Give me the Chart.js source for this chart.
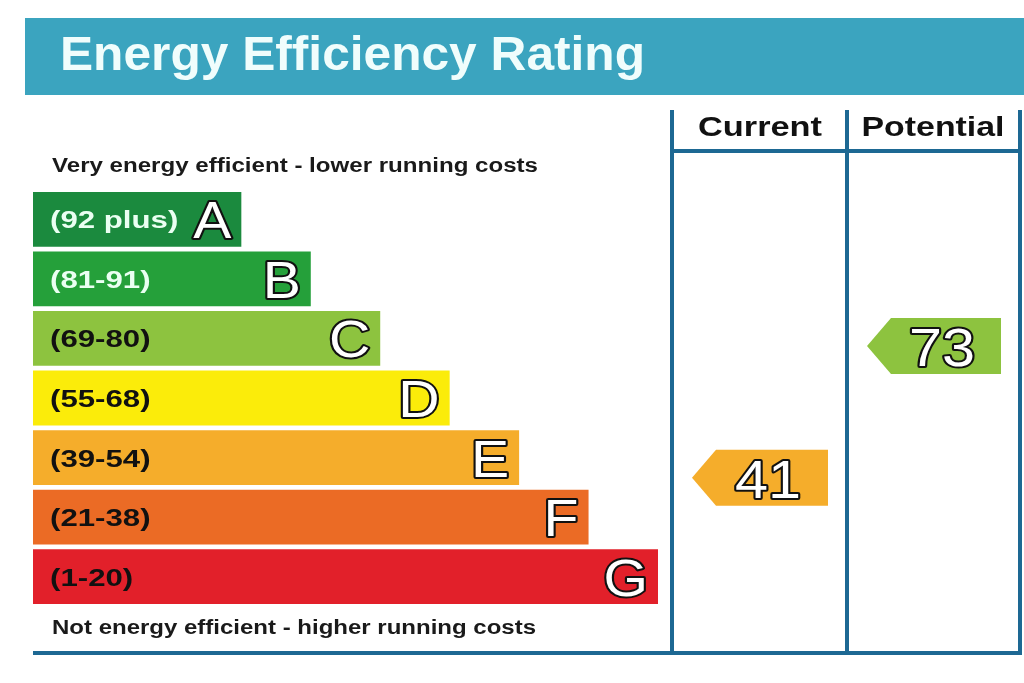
<!DOCTYPE html>
<html>
<head>
<meta charset="utf-8">
<script src="https://cdn.jsdelivr.net/npm/chart.js@4.4.1/dist/chart.umd.min.js"></script>
<style>
html,body{margin:0;padding:0;background:#fff;}
canvas{display:block;}
</style>
</head>
<body>
<canvas id="c" width="1024" height="683"></canvas>
<script>
// ---- data ----
const chartTitle = 'Energy Efficiency Rating';
const bands = ['A','B','C','D','E','F','G'];
const rangeLabels = ['(92 plus)','(81-91)','(69-80)','(55-68)','(39-54)','(21-38)','(1-20)'];
const bandMin = [92,81,69,55,39,21,1];
const bandMax = [100,91,80,68,54,38,20];
const barLengths = [3,4,5,6,7,8,9];
const bandColors = ['#1b8a3e','#25a03a','#8dc33f','#fbec0a','#f5ad2b','#eb6b25','#e2202a'];
const labelColors = ['#eafff2','#eafff2','#111','#111','#111','#111','#111'];
const columnTitles = ['Current','Potential'];
const ratings = [41, 73];
const topNote = 'Very energy efficient - lower running costs';
const bottomNote = 'Not energy efficient - higher running costs';

const FONT = '"Liberation Sans", Arial, sans-serif';
const LINE = '#1d6893';

function txt(ctx, s, x, y, size, weight, color, align, targetW, sx, stroke){
  ctx.save();
  ctx.font = weight + ' ' + size + 'px ' + FONT;
  ctx.textBaseline = 'alphabetic';
  ctx.textAlign = 'left';
  const w0 = ctx.measureText(s).width;
  const k = targetW ? targetW / w0 : (sx || 1);
  const w = w0 * k;
  let left = x;
  if (align === 'center') left = x - w/2;
  else if (align === 'right') left = x - w;
  ctx.translate(left, y);
  ctx.scale(k, 1);
  if (stroke) {
    ctx.lineJoin = 'round';
    ctx.lineWidth = stroke;
    ctx.strokeStyle = '#111';
    ctx.strokeText(s, 0, 0);
  }
  ctx.fillStyle = color;
  ctx.fillText(s, 0, 0);
  ctx.restore();
}

function bandFor(v){
  for (let i=0;i<bands.length;i++) if (v>=bandMin[i] && v<=bandMax[i]) return i;
  return bands.length-1;
}

const epcPlugin = {
  id: 'epc',
  beforeDatasetsDraw(chart){
    const ctx = chart.ctx;
    // header band
    ctx.save();
    ctx.fillStyle = '#3ba4bf';
    ctx.fillRect(25, 18, 999, 77);
    ctx.restore();
    txt(ctx, chartTitle, 60, 70, 49, 'bold', '#f0fdfc', 'left', 585);
    // columns
    ctx.save();
    ctx.strokeStyle = LINE;
    ctx.lineWidth = 4;
    ctx.beginPath();
    [672, 847, 1020].forEach(x => { ctx.moveTo(x, 110); ctx.lineTo(x, 655); });
    ctx.moveTo(670, 151); ctx.lineTo(1022, 151);
    ctx.moveTo(33, 653); ctx.lineTo(1022, 653);
    ctx.stroke();
    ctx.restore();
    txt(ctx, columnTitles[0], 760, 136, 28, 'bold', '#111', 'center', 124);
    txt(ctx, columnTitles[1], 933, 136, 28, 'bold', '#111', 'center', 143);
    txt(ctx, topNote, 52, 172, 20, 'bold', '#1a1a1a', 'left', 486);
    txt(ctx, bottomNote, 52, 634, 20, 'bold', '#1a1a1a', 'left', 484);
  },
  afterDatasetsDraw(chart){
    const ctx = chart.ctx;
    const meta = chart.getDatasetMeta(0);
    meta.data.forEach((bar, i) => {
      const cy = bar.y;
      txt(ctx, rangeLabels[i], 50, cy + 9, 24, 'bold', labelColors[i], 'left', null, 1.3);
      txt(ctx, bands[i], bar.x - 10, cy + 19, 52, 'normal', '#fff', 'right', null, 1.1, 4);
    });
    // rating arrows
    const cols = [[672, 847], [847, 1020]];
    ratings.forEach((v, k) => {
      const i = bandFor(v);
      const bar = meta.data[i];
      const h = bar.height;
      const top = bar.y - h/2;
      const cy = top + (bandMax[i] - v) / (bandMax[i] - bandMin[i]) * h;
      const x0 = cols[k][0] + 20, x1 = cols[k][1] - 19;
      const notch = 24;
      const ah = 56;
      ctx.save();
      ctx.fillStyle = bandColors[i];
      ctx.beginPath();
      ctx.moveTo(x0, cy);
      ctx.lineTo(x0 + notch, cy - ah/2);
      ctx.lineTo(x1, cy - ah/2);
      ctx.lineTo(x1, cy + ah/2);
      ctx.lineTo(x0 + notch, cy + ah/2);
      ctx.closePath();
      ctx.fill();
      ctx.restore();
      txt(ctx, String(v), (x0 + notch + x1)/2 - 4, cy + 20, 54, 'normal', '#fff', 'center', null, 1.1, 4);
    });
  }
};

new Chart(document.getElementById('c'), {
  type: 'bar',
  data: {
    labels: bands,
    datasets: [{
      data: barLengths,
      backgroundColor: bandColors,
      borderWidth: 0,
      barPercentage: 0.92,
      categoryPercentage: 1
    }]
  },
  options: {
    indexAxis: 'y',
    responsive: false,
    animation: false,
    devicePixelRatio: 1,
    layout: { padding: { left: 33, right: 366, top: 189.5, bottom: 76.5 } },
    scales: {
      x: { display: false, min: 0, max: 9 },
      y: { display: false, offset: true }
    },
    plugins: { legend: { display: false }, tooltip: { enabled: false } }
  },
  plugins: [epcPlugin]
});
</script>
</body>
</html>
